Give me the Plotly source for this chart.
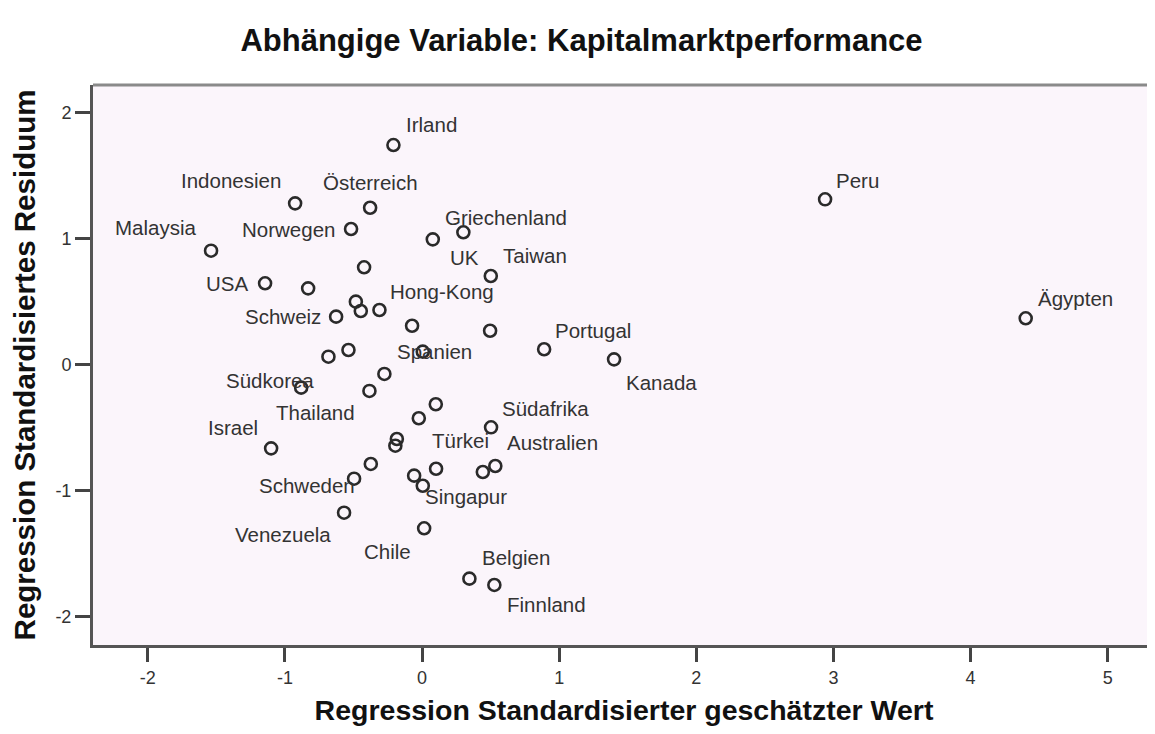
import plotly.graph_objects as go

# ---- data ----
countries = ["Irland", "Indonesien", "Österreich", "Malaysia", "Norwegen", "Griechenland",
             "UK", "Taiwan", "USA", "Hong-Kong", "Schweiz", "Spanien", "Portugal", "Kanada",
             "Peru", "Ägypten", "Südkorea", "Thailand", "Südafrika", "Türkei", "Australien",
             "Israel", "Schweden", "Singapur", "Venezuela", "Chile", "Belgien", "Finnland",
             "", "", "", "", "", "", "", "", "", "", "", "", "", "", "", ""]
pred_std = [-0.209, -0.926, -0.379, -1.539, -0.518, 0.301,
            0.078, 0.501, -1.145, -0.311, -0.627, 0.005, 0.890, 1.400,
            2.939, 4.402, -0.882, -0.384, 0.503, -0.024, 0.534,
            -1.101, -0.496, 0.005, -0.569, 0.015, 0.345, 0.527,
            -0.831, -0.423, -0.483, -0.447, -0.073, 0.496, -0.683, -0.537,
            -0.275, 0.100, -0.184, -0.195, -0.374, -0.058, 0.102, 0.443]
resid_std = [1.743, 1.280, 1.245, 0.904, 1.076, 1.050,
             0.994, 0.703, 0.645, 0.433, 0.380, 0.102, 0.121, 0.041,
             1.312, 0.367, -0.184, -0.210, -0.499, -0.427, -0.806,
             -0.666, -0.907, -0.963, -1.177, -1.301, -1.701, -1.751,
             0.605, 0.772, 0.499, 0.425, 0.308, 0.268, 0.062, 0.115,
             -0.075, -0.316, -0.592, -0.645, -0.790, -0.883, -0.828, -0.854]
x_ticks = [-2, -1, 0, 1, 2, 3, 4, 5]
y_ticks = [-2, -1, 0, 1, 2]

title_text = "Abhängige Variable: Kapitalmarktperformance"
x_title = "Regression Standardisierter geschätzter Wert"
y_title = "Regression Standardisiertes Residuum"

# ---- label placement style (anchor, x offset px, y offset px) ----
label_style = {
    "Irland": ("left", 11, 21), "Indonesien": ("right", -12, 23),
    "Österreich": ("center", 0, 25), "Malaysia": ("right", -13, 23),
    "Norwegen": ("right", -14, 0), "Griechenland": ("left", -20, 15),
    "UK": ("left", 15, -18), "Taiwan": ("left", 10, 20),
    "USA": ("right", -15, 0), "Hong-Kong": ("left", 9, 18),
    "Schweiz": ("right", -13, 0), "Spanien": ("center", 12, 0),
    "Portugal": ("left", 9, 19), "Kanada": ("left", 10, -23),
    "Peru": ("left", 9, 19), "Ägypten": ("left", 10, 20),
    "Südkorea": ("right", 15, 7), "Thailand": ("right", -12, -22),
    "Südafrika": ("left", 9, 19), "Türkei": ("left", 11, -22),
    "Australien": ("left", 10, 23), "Israel": ("right", -11, 21),
    "Schweden": ("right", 3, -7), "Singapur": ("left", 0, -11),
    "Venezuela": ("right", -11, -22), "Chile": ("right", -11, -23),
    "Belgien": ("left", 11, 21), "Finnland": ("left", 11, -20),
}

FONT = "Liberation Sans, Arial, sans-serif"
DARK = "#2a2a2a"
W, H = 1147, 718   # page body has an 8px margin on every side

fig = go.Figure()
fig.add_trace(go.Scatter(
    x=pred_std, y=resid_std, mode="markers",
    marker=dict(symbol="circle-open", size=12, color=DARK, line=dict(width=2.6, color=DARK)),
    text=countries, hoverinfo="x+y+text", showlegend=False,
))

annotations = []
for name, xv, yv in zip(countries, pred_std, resid_std):
    if not name:
        continue
    anc, dx, dy = label_style[name]
    annotations.append(dict(
        x=xv, y=yv, xref="x", yref="y", text=name, showarrow=False,
        xanchor=anc, yanchor="middle", xshift=dx, yshift=dy,
        font=dict(family=FONT, size=20.5, color="#333333"),
    ))

fig.update_layout(
    width=W, height=H,
    margin=dict(l=85, r=0, t=77, b=81, autoexpand=False),
    paper_bgcolor="white", plot_bgcolor="#FBF5FB",
    title=dict(text=title_text, x=0.5, xref="container", y=1 - 32 / H, yref="container",
               xanchor="center", yanchor="middle",
               font=dict(family=FONT, size=31, color="#111111", weight="bold")),
    annotations=annotations,
    # top frame line of the plot area (grey, like the reference)
    shapes=[dict(type="line", xref="paper", yref="paper", x0=0, x1=1, y0=1, y1=1,
                 line=dict(color="#8a8a8a", width=3), layer="above")],
    xaxis=dict(
        range=[-2.4, 5.345], tickvals=x_ticks, ticktext=[str(t) for t in x_ticks],
        showgrid=False, zeroline=False, automargin=False,
        showline=True, linecolor="#555555", linewidth=3, mirror=False,
        ticks="outside", ticklen=14, tickwidth=2.5, tickcolor="#444444",
        tickfont=dict(family=FONT, size=18, color="#333333"),
        title=dict(text=x_title, standoff=15,
                   font=dict(family=FONT, size=28.5, color="#111111", weight="bold")),
    ),
    yaxis=dict(
        range=[-2.228, 2.22], tickvals=y_ticks, ticktext=[str(t) for t in y_ticks],
        showgrid=False, zeroline=False, automargin=False,
        showline=True, linecolor="#555555", linewidth=3, mirror=False,
        ticks="outside", ticklen=15, tickwidth=2.5, tickcolor="#444444",
        tickfont=dict(family=FONT, size=18, color="#333333"),
        title=dict(text=y_title, standoff=18,
                   font=dict(family=FONT, size=29.5, color="#111111", weight="bold")),
    ),
)

fig.write_html("out.html")
